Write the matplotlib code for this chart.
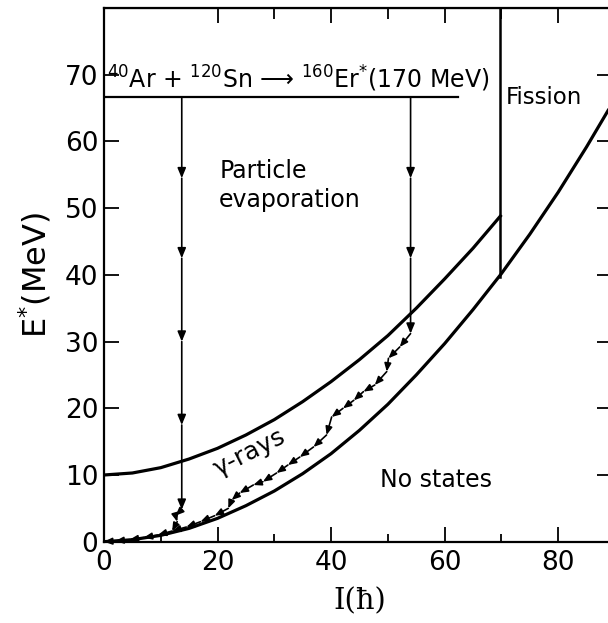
import matplotlib
matplotlib.use("Agg")
import matplotlib.pyplot as plt

# yrast line (lower curve) and upper boundary
spin_yrast = [0, 5, 10, 15, 20, 25, 30, 35, 40, 45, 50, 55, 60, 65, 70, 75, 80, 85, 90]
e_yrast = [0, 0.3, 0.95, 2.0, 3.5, 5.4, 7.6, 10.2, 13.2, 16.7, 20.6, 25.0, 29.7, 34.8, 40.2, 46.1, 52.4, 59.2, 66.4]
spin_upper = [0, 5, 10, 15, 20, 25, 30, 35, 40, 45, 50, 55, 60, 65, 70]
e_upper = [10, 10.3, 11.1, 12.4, 14.0, 16.0, 18.3, 21.0, 24.0, 27.3, 30.9, 35.0, 39.4, 44.0, 49.0]

# entrance line and fission limit
beam_e = 66.6
beam_spin_end = 62.3
fission_spin = 69.7
entry_spins = [13.7, 54.0]
# arrowheads on the two evaporation chains
evap_left_e = [66.6, 54.5, 42.5, 30.0, 17.5, 4.8]
evap_right_e = [66.6, 54.5, 42.5, 31.2]

# gamma cascades (I, E*)
casc_right_i = [54.0, 52.1, 50.1, 49.8, 47.7, 45.7, 44.0, 42.1, 40.1, 39.2, 36.9, 34.5, 32.4,
                30.4, 28.0, 26.3, 23.9, 22.5, 21.9, 19.5, 17.0, 14.5, 12.0, 9.5, 7.0, 4.5, 2.0, 0.0]
casc_right_e = [31.2, 29.2, 27.5, 25.5, 23.5, 22.5, 21.2, 20.0, 18.7, 16.0, 14.2, 12.7, 11.5,
                10.3, 9.0, 8.5, 7.3, 6.25, 5.0, 3.9, 3.0, 2.2, 1.6, 1.0, 0.6, 0.3, 0.1, 0.0]
casc_left_i = [13.7, 12.6, 12.9, 12.0]
casc_left_e = [4.8, 3.9, 3.0, 1.6]

fig = plt.figure(figsize=(6.08, 6.23), dpi=100)
ax = fig.add_axes([0.171, 0.1305, 0.8405, 0.8565])

ax.plot(spin_yrast, e_yrast, color="black", lw=2.3, solid_capstyle="butt")
ax.plot(spin_upper, e_upper, color="black", lw=2.3, solid_capstyle="butt")
ax.plot([0, beam_spin_end], [beam_e, beam_e], color="black", lw=1.6)
ax.plot([fission_spin, fission_spin], [80, e_yrast[14] - 0.5], color="black", lw=1.8)


def chain(xs, ys, scale, lw):
    for k in range(len(xs) - 1):
        ax.annotate("", xy=(xs[k + 1], ys[k + 1]), xytext=(xs[k], ys[k]),
                    arrowprops=dict(arrowstyle="-|>,head_length=0.6,head_width=0.25",
                                    color="black", lw=lw, mutation_scale=scale,
                                    shrinkA=0, shrinkB=0))


chain([entry_spins[0]] * len(evap_left_e), evap_left_e, 10, 1.2)
chain([entry_spins[1]] * len(evap_right_e), evap_right_e, 10, 1.2)
chain(casc_right_i, casc_right_e, 8, 1.2)
chain(casc_left_i, casc_left_e, 8, 1.2)

ax.text(0.6, 68.0, r"$^{40}$Ar + $^{120}$Sn ⟶ $^{160}$Er$^{*}$(170 MeV)", fontsize=17,
        ha="left", va="baseline")
ax.text(20.3, 53.4, "Particle\nevaporation", fontsize=17, ha="left", va="center",
        linespacing=1.25)
ax.text(70.7, 66.6, "Fission", fontsize=16.5, ha="left", va="center")
ax.text(25.6, 13.3, "γ-rays", fontsize=18, ha="center", va="center", rotation=27)
ax.text(58.4, 9.2, "No states", fontsize=17, ha="center", va="center")

ax.set_xlim(0, 90)
ax.set_ylim(0, 80)
ax.set_xticks([0, 20, 40, 60, 80])
ax.set_xticks([10, 30, 50, 70, 90], minor=True)
ax.set_yticks([0, 10, 20, 30, 40, 50, 60, 70])
ax.tick_params(axis="x", which="major", direction="in", length=11, width=1.3, labelsize=19, pad=6)
ax.tick_params(axis="x", which="minor", direction="in", length=6, width=1.3)
ax.tick_params(axis="y", which="major", direction="in", length=11, width=1.3, labelsize=19, pad=4)
for s in ax.spines.values():
    s.set_linewidth(1.6)

top = ax.secondary_xaxis("top")
top.set_xticks([20, 40, 60, 80])
top.set_xticks([30, 50, 70], minor=True)
top.tick_params(which="major", direction="in", length=11, width=1.3, labeltop=False)
top.tick_params(which="minor", direction="in", length=8, width=1.3)
right = ax.secondary_yaxis("right")
right.set_yticks([10, 20, 30, 40, 50, 60, 70])
right.tick_params(direction="in", length=13, width=1.3, labelright=False)

ax.set_xlabel("I(ħ)", fontsize=21, family="DejaVu Serif", labelpad=8)
ax.set_ylabel("E$^{*}$(MeV)", fontsize=23, labelpad=8)

fig.savefig("out.png", dpi=100)
